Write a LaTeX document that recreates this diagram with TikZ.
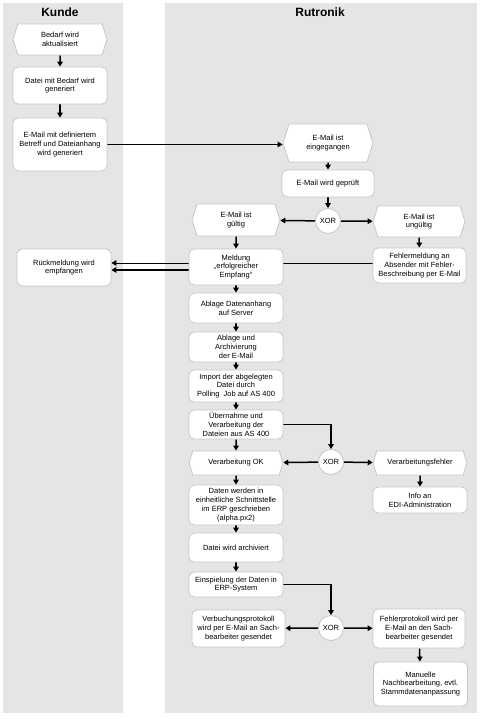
\documentclass[tikz,border=0pt]{standalone}
\usepackage{fontspec}
\setmainfont{Liberation Sans}
\usetikzlibrary{shapes.symbols,arrows.meta,calc}
\pgfdeclarelayer{lanes}
\pgfdeclarelayer{edges}
\pgfsetlayers{lanes,edges,main}
\begin{document}
\begin{tikzpicture}[x=1pt,y=-1pt,
 font=\fontsize{7.5}{8.8}\selectfont,
 box/.style={draw=black!22, fill=white, rounded corners=5pt, align=center, inner sep=1pt, minimum width=94pt, line width=0.8pt},
 evt/.style={draw=black!22, fill=white, signal, signal to=west and east, signal pointer angle=145, align=center, inner sep=1pt, minimum width=94pt, line width=0.8pt},
 xor/.style={circle, draw=black!22, fill=white, minimum size=25pt, inner sep=0pt, line width=0.8pt},
 arr/.style={line width=1.5pt, -{Triangle[length=5pt,width=5.5pt]}},
 lanefill/.style={fill=black!10},
 lanetitle/.style={font=\fontsize{12}{14}\selectfont\bfseries}]
\useasboundingbox (0,0) rectangle (484,719);
\begin{pgfonlayer}{lanes}
\fill[lanefill] (3,3) rectangle (123,713);
\fill[lanefill] (165,3) rectangle (477,713);
\end{pgfonlayer}
\node[lanetitle] (tk) at (60,12) {Kunde};
\node[lanetitle] (tr) at (320,12) {Rutronik};

% Kunde
\node[evt, minimum height=31pt] (bedarf) at (60,39.5) {Bedarf wird\\aktualisiert};
\node[box, minimum height=37pt] (datei) at (60,85.5) {Datei mit Bedarf wird\\generiert};
\node[box, minimum height=53pt] (mail) at (60,144.5) {E-Mail mit definiertem\\Betreff und Dateianhang\\wird generiert};
\node[box, minimum height=37pt] (rueck) at (64,267.5) {Rückmeldung wird\\empfangen};

% Rutronik
\node[evt, minimum width=90pt, minimum height=38pt] (eing) at (328,143) {E-Mail ist\\eingegangen};
\node[box, minimum width=92pt, minimum height=27pt] (gepr) at (328,183.5) {E-Mail wird geprüft};
\node[xor] (x1) at (328,221) {XOR};
\node[evt, minimum width=88pt, minimum height=32pt] (gue) at (236,220) {E-Mail ist\\gültig};
\node[evt, minimum width=92pt, minimum height=31pt] (ungue) at (419,221.5) {E-Mail ist\\ungültig};
\node[box, minimum height=36pt] (meld) at (236,267) {Meldung\\„erfolgreicher\\Empfang“};
\node[box, minimum width=93pt, minimum height=35pt] (fehl) at (419.5,265.5) {Fehlermeldung an\\Absender mit Fehler-\\Beschreibung per E-Mail};
\node[box, minimum height=30pt] (abl1) at (236,308) {Ablage Datenanhang\\auf Server};
\node[box, minimum height=30pt] (abl2) at (236,347) {Ablage und\\Archivierung\\der E-Mail};
\node[box, minimum height=32pt] (imp) at (236,386) {Import der abgelegten\\Datei durch\\Polling\ \ Job auf AS 400};
\node[box, minimum height=29pt] (uebern) at (236,424.5) {Übernahme und\\Verarbeitung der\\Dateien aus AS 400};
\node[evt, minimum height=24pt] (vok) at (236,463) {Verarbeitung OK};
\node[xor] (x2) at (331,462) {XOR};
\node[evt, minimum height=24pt] (vfehl) at (420,463) {Verarbeitungsfehler};
\node[box, minimum height=26pt] (info) at (420,500) {Info an\\EDI-Administration};
\node[box, minimum height=40pt] (daten) at (236,505) {Daten werden in\\einheitliche Schnittstelle\\im ERP geschrieben\\(alpha.px2)};
\node[box, minimum height=29pt] (arch) at (236,547.5) {Datei wird archiviert};
\node[box, minimum height=25pt] (einsp) at (236,584.5) {Einspielung der Daten in\\ERP-System};
\node[xor] (x3) at (331,628) {XOR};
\node[box, minimum width=93pt, minimum height=37pt] (verb) at (238.5,628.5) {Verbuchungsprotokoll\\wird per E-Mail an Sach-\\bearbeiter gesendet};
\node[box, minimum width=92pt, minimum height=39pt] (fprot) at (419,628.5) {Fehlerprotokoll wird per\\E-Mail an den Sach-\\bearbeiter gesendet};
\node[box, minimum height=44pt] (man) at (420.5,684) {Manuelle\\Nachbearbeitung, evtl.\\Stammdatenanpassung};

\begin{pgfonlayer}{edges}
\draw[arr] (bedarf) -- (datei);
\draw[arr] (datei) -- (mail);
\draw[arr] (mail.east) -- (mail.east -| eing.west);
\draw[arr] (eing) -- (gepr);
\draw[arr] (gepr) -- (x1);
\draw[arr] (x1) -- (gue);
\draw[arr] (x1) -- (ungue);
\draw[arr] (gue) -- (meld);
\draw[arr] (ungue) -- (fehl);
\draw[arr, line width=1pt] ([yshift=2.5pt]fehl.west) -- ([yshift=2.5pt]fehl.west -| rueck.east);
\draw[arr] ([yshift=-3pt]meld.west) -- ([yshift=-3pt]meld.west -| rueck.east);
\draw[arr] (meld) -- (abl1);
\draw[arr] (abl1) -- (abl2);
\draw[arr] (abl2) -- (imp);
\draw[arr] (imp) -- (uebern);
\draw[arr] (uebern) -- (vok);
\draw[arr] (uebern.east) -| (x2.north);
\draw[arr] (x2) -- (vok);
\draw[arr] (x2) -- (vfehl);
\draw[arr] (vfehl) -- (info);
\draw[arr] (vok) -- (daten);
\draw[arr] (daten) -- (arch);
\draw[arr] (arch) -- (einsp);
\draw[arr] (einsp.east) -| (x3.north);
\draw[arr] (x3) -- (verb);
\draw[arr] (x3) -- (fprot);
\draw[arr] (fprot) -- (man);
\end{pgfonlayer}
\end{tikzpicture}
\end{document}
